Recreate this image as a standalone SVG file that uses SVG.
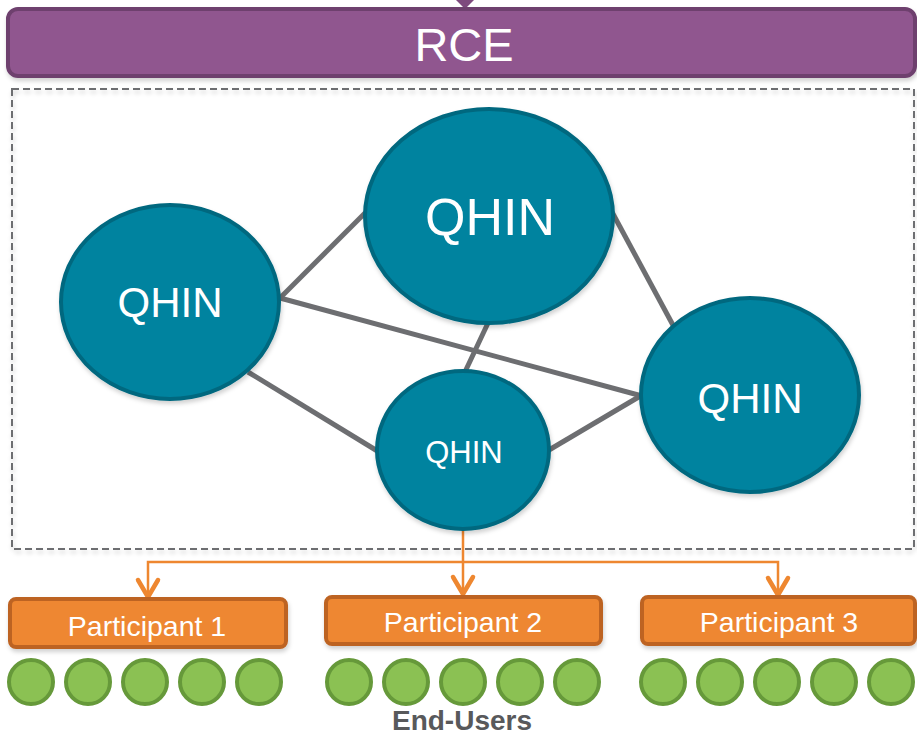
<svg xmlns="http://www.w3.org/2000/svg" width="917" height="736" viewBox="0 0 917 736">
<defs>
<filter id="sh" x="-10%" y="-10%" width="120%" height="130%">
<feDropShadow dx="1" dy="3" stdDeviation="2" flood-color="#000" flood-opacity="0.18"/>
</filter>
</defs>
<style>
.qhin{fill:#06839F;stroke:#04687F;stroke-width:4;filter:url(#sh)}
.qt{fill:#fff;font-family:"Liberation Sans",Arial,sans-serif;text-anchor:middle}
.link{stroke:#6D6E71;stroke-width:5;fill:none}
.part{fill:#EE8730;stroke:#BD6323;stroke-width:4;filter:url(#sh)}
.pt{fill:#fff;font-family:"Liberation Sans",Arial,sans-serif;font-size:28.5px;text-anchor:middle}
.eu{fill:#8BC153;stroke:#66993A;stroke-width:4}
.oc{stroke:#EE8730;stroke-width:2.5;fill:none}
.chev{stroke:#EE8730;stroke-width:4.5;fill:none;stroke-linecap:round;stroke-linejoin:round}
</style>
<rect width="917" height="736" fill="#fff"/>

<g id="rce">
<polygon points="456,0 474,0 465,9" fill="#7E4A7E"/>
<rect x="8" y="9" width="907" height="67" rx="10" fill="#90578F" stroke="#6E3F6E" stroke-width="4" filter="url(#sh)"/>
<text class="qt" x="464" y="61" font-size="47">RCE</text>
</g>

<g id="network-box">
<rect x="12" y="89" width="902" height="460" fill="none" stroke="#6D6E71" stroke-width="2" stroke-dasharray="7,4" filter="url(#sh)"/>
</g>

<g id="connectors">
<line class="link" x1="280" y1="298" x2="366" y2="212"/>
<line class="link" x1="280" y1="298" x2="642" y2="396"/>
<line class="link" x1="248" y1="372" x2="379" y2="452"/>
<line class="link" x1="488" y1="323" x2="464" y2="374"/>
<line class="link" x1="612" y1="212" x2="674" y2="327"/>
<line class="link" x1="549" y1="450" x2="642" y2="395"/>
<path class="oc" d="M463,530 V593 M463,562 H148 V595 M463,562 H778 V593"/>
<path class="chev" d="M138,580 L148,597 L158,580"/>
<path class="chev" d="M453,577 L463,594 L473,577"/>
<path class="chev" d="M768,578 L778,595 L788,578"/>
</g>

<g id="qhin-left">
<ellipse class="qhin" cx="170" cy="302" rx="109" ry="97"/>
<text class="qt" x="170" y="317" font-size="42">QHIN</text>
</g>
<g id="qhin-top">
<ellipse class="qhin" cx="489" cy="216" rx="124" ry="107"/>
<text class="qt" x="490" y="235" font-size="52">QHIN</text>
</g>
<g id="qhin-right">
<ellipse class="qhin" cx="750" cy="395" rx="109" ry="97"/>
<text class="qt" x="750" y="413" font-size="42">QHIN</text>
</g>
<g id="qhin-bottom">
<ellipse class="qhin" cx="463" cy="450" rx="86" ry="79"/>
<text class="qt" x="464" y="463" font-size="31">QHIN</text>
</g>

<g id="participant-1">
<rect class="part" x="10" y="599" width="276" height="48" rx="6"/>
<text class="pt" x="147" y="636">Participant 1</text>
</g>
<g id="participant-2">
<rect class="part" x="326" y="597" width="275" height="47" rx="6"/>
<text class="pt" x="463" y="632">Participant 2</text>
</g>
<g id="participant-3">
<rect class="part" x="642" y="597" width="273" height="47" rx="6"/>
<text class="pt" x="779" y="632">Participant 3</text>
</g>

<g id="end-users">
<ellipse class="eu" cx="31" cy="682" rx="22" ry="22"/>
<ellipse class="eu" cx="88" cy="682" rx="22" ry="22"/>
<ellipse class="eu" cx="145" cy="682" rx="22" ry="22"/>
<ellipse class="eu" cx="202" cy="682" rx="22" ry="22"/>
<ellipse class="eu" cx="259" cy="682" rx="22" ry="22"/>
<ellipse class="eu" cx="349" cy="682" rx="22" ry="22"/>
<ellipse class="eu" cx="406" cy="682" rx="22" ry="22"/>
<ellipse class="eu" cx="463" cy="682" rx="22" ry="22"/>
<ellipse class="eu" cx="520" cy="682" rx="22" ry="22"/>
<ellipse class="eu" cx="577" cy="682" rx="22" ry="22"/>
<ellipse class="eu" cx="663" cy="682" rx="22" ry="22"/>
<ellipse class="eu" cx="720" cy="682" rx="22" ry="22"/>
<ellipse class="eu" cx="777" cy="682" rx="22" ry="22"/>
<ellipse class="eu" cx="834" cy="682" rx="22" ry="22"/>
<ellipse class="eu" cx="891" cy="682" rx="22" ry="22"/>
<text x="462" y="730" fill="#58595B" font-family="'Liberation Sans',Arial,sans-serif" font-size="28" font-weight="bold" text-anchor="middle">End-Users</text>
</g>
</svg>
